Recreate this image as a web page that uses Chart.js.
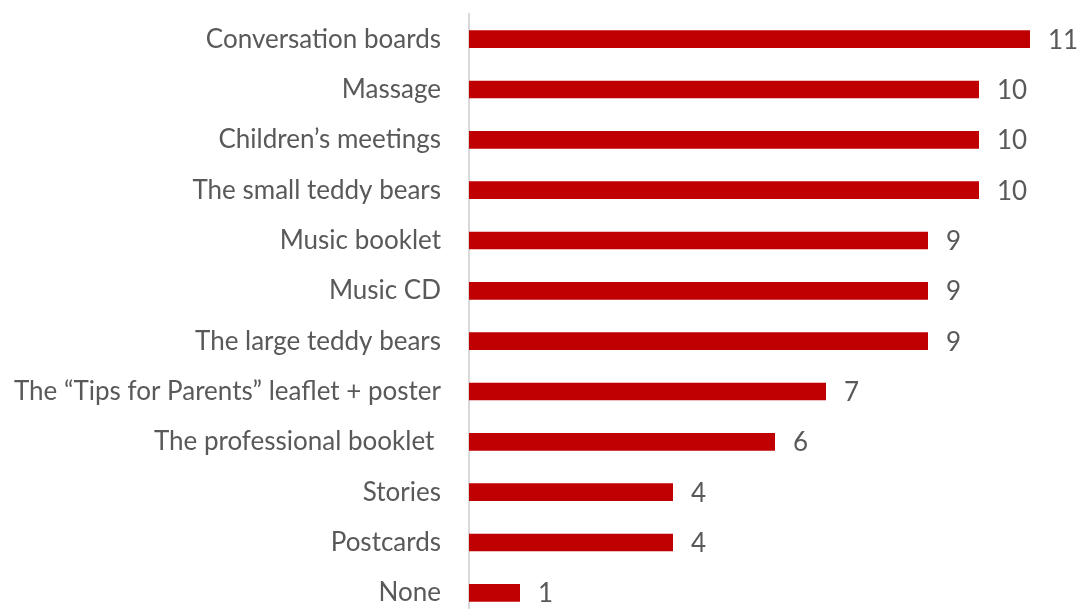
<!DOCTYPE html>
<html>
<head>
<meta charset="utf-8">
<script src="https://cdn.jsdelivr.net/npm/chart.js@4/dist/chart.umd.min.js"></script>
<style>
  html, body { margin: 0; padding: 0; background: #ffffff; overflow: hidden; }
  #wrap { position: relative; width: 1079px; height: 618px; }
</style>
</head>
<body>
<div id="wrap"><canvas id="chart"></canvas></div>
<script>
// Materials used, by number of responses
const categories = [
  "Conversation boards",
  "Massage",
  "Children\u2019s meetings",
  "The small teddy bears",
  "Music booklet",
  "Music CD",
  "The large teddy bears",
  "The \u201cTips for Parents\u201d leaflet + poster",
  "The professional booklet ",
  "Stories",
  "Postcards",
  "None"
];
const counts = [11, 10, 10, 10, 9, 9, 9, 7, 6, 4, 4, 1];

const TEXT_COLOR = "#595959";
const FONT_FAMILY = "Lato, 'Open Sans', sans-serif";
const FONT_SIZE = 26;

// Writes the count just past the end of each bar
const valueLabels = {
  id: "valueLabels",
  afterDatasetsDraw(chart) {
    const ctx = chart.ctx;
    const meta = chart.getDatasetMeta(0);
    ctx.save();
    ctx.font = FONT_SIZE + "px " + FONT_FAMILY;
    ctx.fillStyle = TEXT_COLOR;
    ctx.textAlign = "left";
    ctx.textBaseline = "middle";
    meta.data.forEach((bar, i) => {
      ctx.fillText(String(counts[i]), bar.x + 18, bar.y + 1);
    });
    ctx.restore();
  }
};

new Chart(document.getElementById("chart"), {
  type: "bar",
  data: {
    labels: categories,
    datasets: [{
      data: counts,
      backgroundColor: "#C00000",
      borderWidth: 0,
      barPercentage: 0.35,
      categoryPercentage: 1.0
    }]
  },
  options: {
    indexAxis: "y",
    responsive: true,
    maintainAspectRatio: false,
    animation: false,
    layout: { padding: { top: 14, bottom: 0, left: 0, right: 23.5 } },
    plugins: {
      legend: { display: false },
      tooltip: { enabled: false }
    },
    scales: {
      x: {
        display: false,
        min: 0,
        max: 11.5
      },
      y: {
        afterFit(scale) {
          scale.width = 469;
          scale.paddingTop = 0;
          scale.paddingBottom = 0;
        },
        grid: { display: false, drawTicks: false },
        border: { display: true, color: "#d9d9d9", width: 2 },
        ticks: {
          color: TEXT_COLOR,
          font: { family: FONT_FAMILY, size: FONT_SIZE },
          padding: 28,
          autoSkip: false
        }
      }
    }
  },
  plugins: [valueLabels]
});
</script>
</body>
</html>
